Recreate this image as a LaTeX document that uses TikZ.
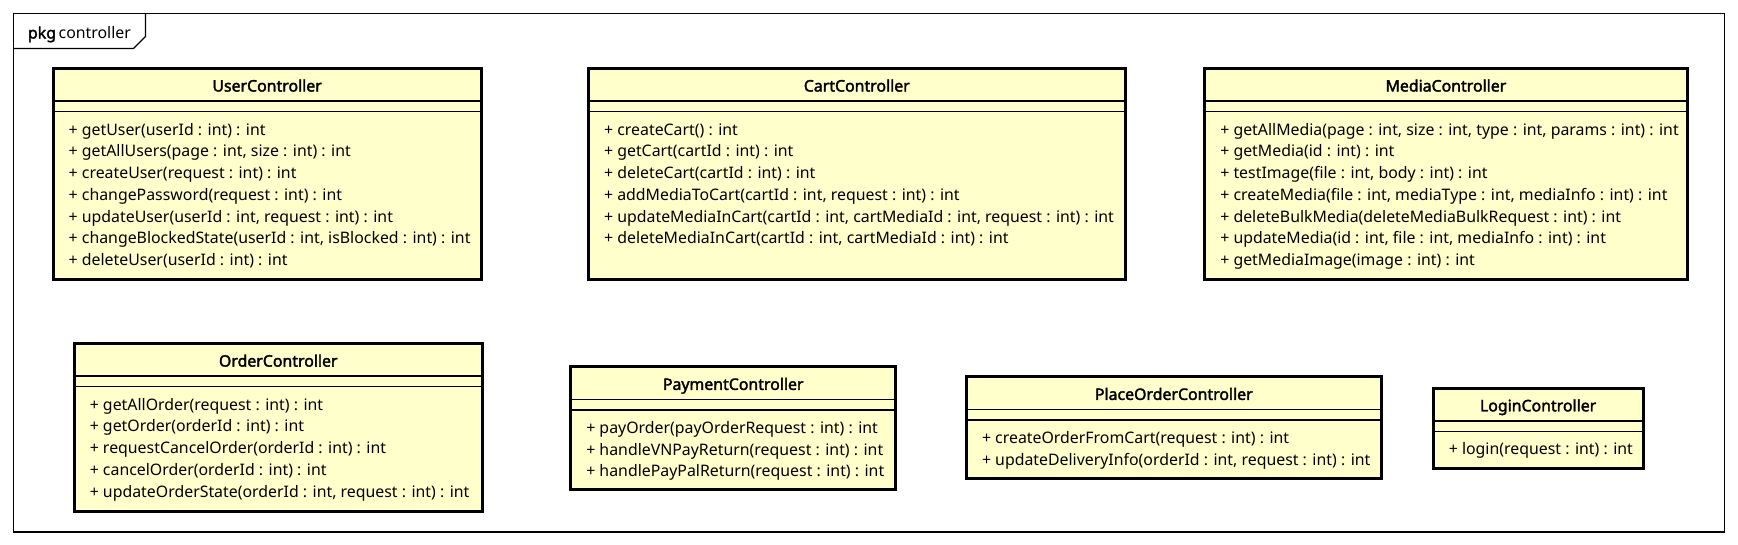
\documentclass[tikz,border=0pt]{standalone}
\usepackage{fontspec}
\setmainfont{Noto Sans}[AutoFakeBold=2.2]
\definecolor{classfill}{RGB}{255,255,204}
\tikzset{every picture/.style={line width=0.75pt}}
\tikzset{
  pkgframe/.style={draw=black, line width=0.9pt},
  classbox/.style={draw=black, line width=2.25pt, fill=classfill},
  compline/.style={draw=black, line width=1.1pt},
  classtitle/.style={anchor=base, inner sep=0pt, font=\fontsize{11.9}{14}\selectfont\bfseries},
  methodtext/.style={anchor=base west, inner sep=0pt, font=\fontsize{11.9}{14}\selectfont},
}

\begin{document}
\begin{tikzpicture}[x=0.75pt,y=0.75pt,yscale=-1,xscale=1]
\useasboundingbox (0,0) rectangle (1738,544);

%Shape: Frame [package controller]
\draw [pkgframe] (13.3,13.3) rectangle (1724.6,532) ;
\draw [pkgframe] (13.3,48.5) -- (133.5,48.5) -- (145.5,36.5) -- (145.5,13.3) ;
% Text Node
\node [methodtext] (pkgname) at (27.5,38.5) {\textbf{pkg}\hspace{2pt}controller};

%Shape: Rectangle [UserController]
\draw [classbox] (53.2,68.5) rectangle (481.0,279.3) ;
\draw [compline] (53.2,101) -- (481.0,101) ;
\draw [compline] (53.2,111.5) -- (481.0,111.5) ;
% Text Node
\node [classtitle] (usertitle) at (267.1,91.5) {UserController};
\node [methodtext] (user1) at (68.2,135) {+ getUser(userId : int) : int};
\node [methodtext] (user2) at (68.2,156.75) {+ getAllUsers(page : int, size : int) : int};
\node [methodtext] (user3) at (68.2,178.5) {+ createUser(request : int) : int};
\node [methodtext] (user4) at (68.2,200.25) {+ changePassword(request : int) : int};
\node [methodtext] (user5) at (68.2,222) {+ updateUser(userId : int, request : int) : int};
\node [methodtext] (user6) at (68.2,243.75) {+ changeBlockedState(userId : int, isBlocked : int) : int};
\node [methodtext] (user7) at (68.2,265.5) {+ deleteUser(userId : int) : int};

%Shape: Rectangle [CartController]
\draw [classbox] (588.6,68.5) rectangle (1125.0,279.3) ;
\draw [compline] (588.6,101) -- (1125.0,101) ;
\draw [compline] (588.6,111.5) -- (1125.0,111.5) ;
% Text Node
\node [classtitle] (carttitle) at (856.8,91.5) {CartController};
\node [methodtext] (cart1) at (603.6,135) {+ createCart() : int};
\node [methodtext] (cart2) at (603.6,156.75) {+ getCart(cartId : int) : int};
\node [methodtext] (cart3) at (603.6,178.5) {+ deleteCart(cartId : int) : int};
\node [methodtext] (cart4) at (603.6,200.25) {+ addMediaToCart(cartId : int, request : int) : int};
\node [methodtext] (cart5) at (603.6,222) {+ updateMediaInCart(cartId : int, cartMediaId : int, request : int) : int};
\node [methodtext] (cart6) at (603.6,243.75) {+ deleteMediaInCart(cartId : int, cartMediaId : int) : int};

%Shape: Rectangle [MediaController]
\draw [classbox] (1204.8,68.5) rectangle (1687.0,279.3) ;
\draw [compline] (1204.8,101) -- (1687.0,101) ;
\draw [compline] (1204.8,111.5) -- (1687.0,111.5) ;
% Text Node
\node [classtitle] (mediatitle) at (1445.9,91.5) {MediaController};
\node [methodtext] (media1) at (1219.8,135) {+ getAllMedia(page : int, size : int, type : int, params : int) : int};
\node [methodtext] (media2) at (1219.8,156.75) {+ getMedia(id : int) : int};
\node [methodtext] (media3) at (1219.8,178.5) {+ testImage(file : int, body : int) : int};
\node [methodtext] (media4) at (1219.8,200.25) {+ createMedia(file : int, mediaType : int, mediaInfo : int) : int};
\node [methodtext] (media5) at (1219.8,222) {+ deleteBulkMedia(deleteMediaBulkRequest : int) : int};
\node [methodtext] (media6) at (1219.8,243.75) {+ updateMedia(id : int, file : int, mediaInfo : int) : int};
\node [methodtext] (media7) at (1219.8,265.5) {+ getMediaImage(image : int) : int};

%Shape: Rectangle [OrderController]
\draw [classbox] (74.3,343.6) rectangle (482.2,511.0) ;
\draw [compline] (74.3,376.1) -- (482.2,376.1) ;
\draw [compline] (74.3,386.6) -- (482.2,386.6) ;
% Text Node
\node [classtitle] (ordertitle) at (278.25,366.6) {OrderController};
\node [methodtext] (order1) at (89.3,410.1) {+ getAllOrder(request : int) : int};
\node [methodtext] (order2) at (89.3,431.85) {+ getOrder(orderId : int) : int};
\node [methodtext] (order3) at (89.3,453.6) {+ requestCancelOrder(orderId : int) : int};
\node [methodtext] (order4) at (89.3,475.35) {+ cancelOrder(orderId : int) : int};
\node [methodtext] (order5) at (89.3,497.1) {+ updateOrderState(orderId : int, request : int) : int};

%Shape: Rectangle [PaymentController]
\draw [classbox] (570.8,366.9) rectangle (895.6,489.9) ;
\draw [compline] (570.8,399.4) -- (895.6,399.4) ;
\draw [compline] (570.8,409.9) -- (895.6,409.9) ;
% Text Node
\node [classtitle] (paytitle) at (733.2,389.9) {PaymentController};
\node [methodtext] (pay1) at (585.8,433.4) {+ payOrder(payOrderRequest : int) : int};
\node [methodtext] (pay2) at (585.8,455.15) {+ handleVNPayReturn(request : int) : int};
\node [methodtext] (pay3) at (585.8,476.9) {+ handlePayPalReturn(request : int) : int};

%Shape: Rectangle [PlaceOrderController]
\draw [classbox] (966.5,376.9) rectangle (1381.1,478.8) ;
\draw [compline] (966.5,409.4) -- (1381.1,409.4) ;
\draw [compline] (966.5,419.9) -- (1381.1,419.9) ;
% Text Node
\node [classtitle] (placetitle) at (1173.8,399.9) {PlaceOrderController};
\node [methodtext] (place1) at (981.5,443.4) {+ createOrderFromCart(request : int) : int};
\node [methodtext] (place2) at (981.5,465.15) {+ updateDeliveryInfo(orderId : int, request : int) : int};

%Shape: Rectangle [LoginController]
\draw [classbox] (1433.3,388.3) rectangle (1643.0,468.5) ;
\draw [compline] (1433.3,420.8) -- (1643.0,420.8) ;
\draw [compline] (1433.3,431.3) -- (1643.0,431.3) ;
% Text Node
\node [classtitle] (logintitle) at (1538.1,411.3) {LoginController};
\node [methodtext] (login1) at (1448.3,454.8) {+ login(request : int) : int};

\end{tikzpicture}
\end{document}
